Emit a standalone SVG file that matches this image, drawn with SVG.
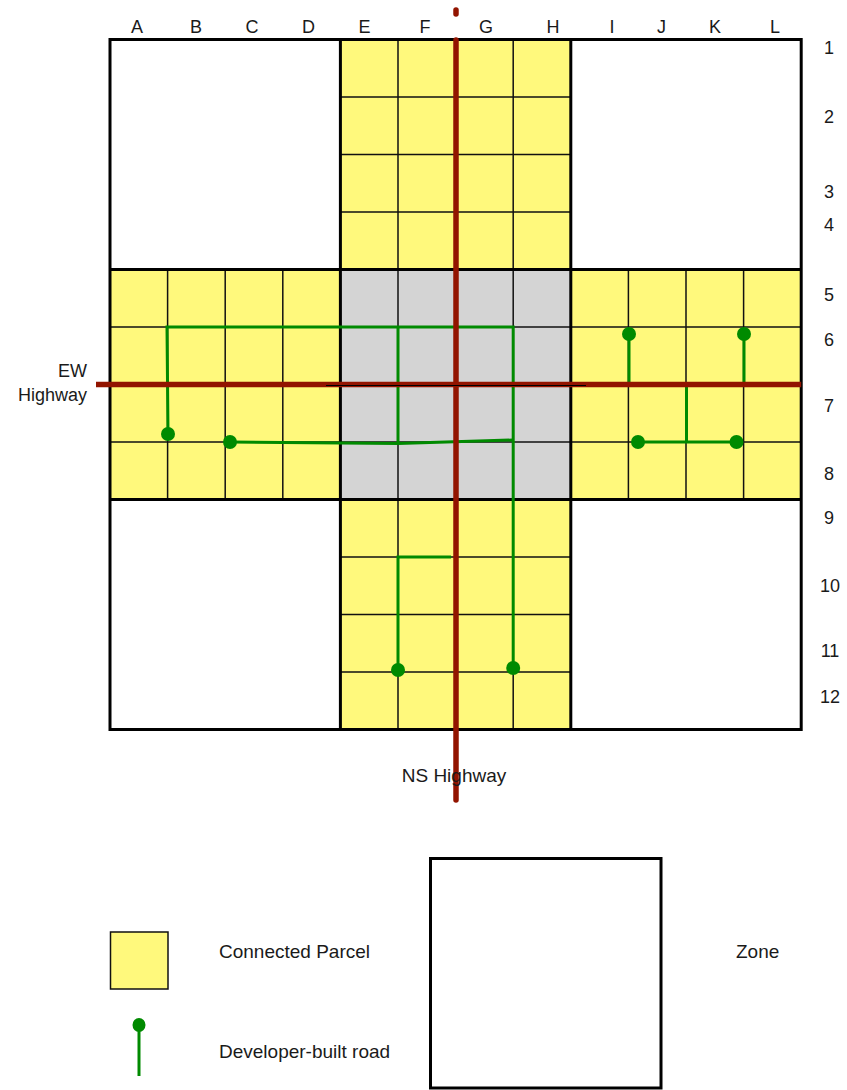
<svg xmlns="http://www.w3.org/2000/svg" width="847" height="1090" viewBox="0 0 847 1090">
<style>
.yel{fill:#fff97c}
.gry{fill:#d4d4d4}
.cell{fill:none;stroke:#111;stroke-width:1.5}
.zb{fill:none;stroke:#000;stroke-width:3}
.road{fill:none;stroke:#008a00;stroke-width:3;stroke-linejoin:miter}
.dot{fill:#008a00}
.hw{stroke:#921400;stroke-width:5.5;fill:none}
.lbl{font-family:"Liberation Sans",Arial,Helvetica,sans-serif;font-size:18px;fill:#1a1a1a}
.leg{font-family:"Liberation Sans",Arial,Helvetica,sans-serif;font-size:19px;fill:#1a1a1a}
</style>
<rect width="847" height="1090" fill="#fff"/>

<g id="zone-NW"><rect x="110" y="39.5" width="230.4" height="230" fill="#fff"/></g>
<g id="zone-NE"><rect x="570.8" y="39.5" width="230.4" height="230" fill="#fff"/></g>
<g id="zone-SW"><rect x="110" y="499.5" width="230.4" height="230" fill="#fff"/></g>
<g id="zone-SE"><rect x="570.8" y="499.5" width="230.4" height="230" fill="#fff"/></g>

<g id="zone-N">
<rect class="yel" x="340.4" y="39.5" width="230.4" height="230"/>
<path class="cell" d="M398,39.5V269.5M455.6,39.5V269.5M513.2,39.5V269.5M340.4,97H570.8M340.4,154.5H570.8M340.4,212H570.8"/>
</g>
<g id="zone-W">
<rect class="yel" x="110" y="269.5" width="230.4" height="230"/>
<path class="cell" d="M167.6,269.5V499.5M225.2,269.5V499.5M282.8,269.5V499.5M110,327H340.4M110,384.5H340.4M110,442H340.4"/>
</g>
<g id="zone-C">
<rect class="gry" x="340.4" y="269.5" width="230.4" height="230"/>
<path class="cell" d="M398,269.5V499.5M455.6,269.5V499.5M513.2,269.5V499.5M340.4,327H570.8M340.4,384.5H570.8M340.4,442H570.8"/>
</g>
<g id="zone-E">
<rect class="yel" x="570.8" y="269.5" width="230.4" height="230"/>
<path class="cell" d="M628.4,269.5V499.5M686,269.5V499.5M743.6,269.5V499.5M570.8,327H801.2M570.8,384.5H801.2M570.8,442H801.2"/>
</g>
<g id="zone-S">
<rect class="yel" x="340.4" y="499.5" width="230.4" height="230"/>
<path class="cell" d="M398,499.5V729.5M455.6,499.5V729.5M513.2,499.5V729.5M340.4,557H570.8M340.4,614.5H570.8M340.4,672H570.8"/>
</g>

<g id="zone-borders">
<rect class="zb" x="110" y="39.5" width="691.2" height="690"/>
<path class="zb" d="M340.4,39.5V729.5M570.8,39.5V729.5M110,269.5H801.2M110,499.5H801.2"/>
</g>

<g id="connectors">
<path class="road" d="M168,434L167,327H513.2V668"/>
<path class="road" d="M398,327V443"/>
<path class="road" d="M230,442L398,443.5L513.2,440"/>
<path class="road" d="M398,670V557H451"/>
<path class="road" d="M629,334V384.5M744,334V384.5M686.5,384.5V442M638,442H736.5"/>
<circle class="dot" cx="168" cy="434" r="7"/>
<circle class="dot" cx="230" cy="442" r="7"/>
<circle class="dot" cx="398" cy="670" r="7"/>
<circle class="dot" cx="513.2" cy="668" r="7"/>
<circle class="dot" cx="629" cy="334" r="7"/>
<circle class="dot" cx="744" cy="334" r="7"/>
<circle class="dot" cx="638" cy="442" r="7"/>
<circle class="dot" cx="736.5" cy="442" r="7"/>
</g>

<g id="highways">
<path class="hw" d="M96,384.5H801.2"/>
<path class="hw" d="M456,40V800" stroke-linecap="round"/>
<path class="hw" d="M456,10V14" stroke-linecap="round"/>
<path d="M326,385.5H586" stroke="#000" stroke-width="1.2"/>
</g>

<g id="col-labels" class="lbl" text-anchor="middle">
<text x="137" y="33">A</text>
<text x="196" y="33">B</text>
<text x="252" y="33">C</text>
<text x="308.5" y="33">D</text>
<text x="364.5" y="33">E</text>
<text x="425" y="33">F</text>
<text x="486" y="33">G</text>
<text x="553" y="33">H</text>
<text x="612" y="33">I</text>
<text x="661.5" y="33">J</text>
<text x="715" y="33">K</text>
<text x="775" y="33">L</text>
</g>
<g id="row-labels" class="lbl" text-anchor="middle">
<text x="829" y="54">1</text>
<text x="829" y="123">2</text>
<text x="829" y="198">3</text>
<text x="829" y="231">4</text>
<text x="829" y="301">5</text>
<text x="829" y="346">6</text>
<text x="829" y="412">7</text>
<text x="829" y="480">8</text>
<text x="829" y="524">9</text>
<text x="830" y="592">10</text>
<text x="830" y="657">11</text>
<text x="830" y="703">12</text>
</g>

<g id="highway-labels">
<text class="lbl" x="87" y="377" text-anchor="end">EW</text>
<text class="lbl" x="87" y="401" text-anchor="end">Highway</text>
<text class="leg" x="454" y="782" text-anchor="middle">NS Highway</text>
</g>

<g id="legend">
<g id="legend-parcel">
<rect x="110.5" y="932" width="57.5" height="57" fill="#fff97c" stroke="#111" stroke-width="1.5"/>
<text class="leg" x="219" y="958">Connected Parcel</text>
</g>
<g id="legend-road">
<path d="M139,1025V1076" stroke="#008a00" stroke-width="3"/>
<ellipse cx="139" cy="1025" rx="6.5" ry="7" fill="#008a00"/>
<text class="leg" x="219" y="1058">Developer-built road</text>
</g>
<g id="legend-zone">
<rect x="430.5" y="858.5" width="230.5" height="229.5" fill="#fff" stroke="#000" stroke-width="3"/>
<text class="leg" x="736" y="958">Zone</text>
</g>
</g>
</svg>
